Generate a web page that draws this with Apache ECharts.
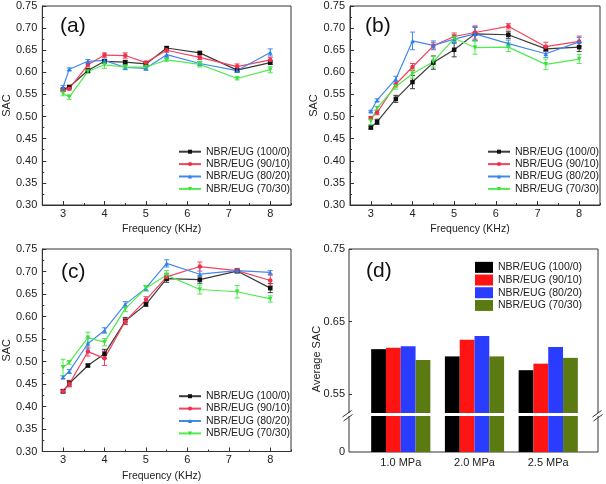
<!DOCTYPE html>
<html><head><meta charset="utf-8">
<script src="https://cdn.jsdelivr.net/npm/echarts@6/dist/echarts.min.js"></script>
<style>html,body{margin:0;padding:0;background:#fff}#c{width:606px;height:484px}</style>
</head><body><div id="c"></div>
<script>
// ---------- data ----------
const freq = [3, 3.15, 3.6, 4, 4.5, 5, 5.5, 6.3, 7.2, 8];
const seriesNames = ['NBR/EUG (100/0)', 'NBR/EUG (90/10)', 'NBR/EUG (80/20)', 'NBR/EUG (70/30)'];
const xTickVals = [3, 4, 5, 6, 7, 8];

// panel (a)
const a100 = [0.561, 0.567, 0.604, 0.625, 0.623, 0.619, 0.655, 0.644, 0.605, 0.622];
const a90  = [0.560, 0.563, 0.617, 0.639, 0.638, 0.622, 0.650, 0.634, 0.613, 0.628];
const a80  = [0.566, 0.607, 0.625, 0.627, 0.611, 0.609, 0.640, 0.620, 0.604, 0.645];
const a70  = [0.552, 0.544, 0.602, 0.617, 0.612, 0.612, 0.628, 0.618, 0.586, 0.606];
const aE100 = [0.003, 0.003, 0.004, 0.004, 0.004, 0.004, 0.003, 0.003, 0.004, 0.004];
const aE90  = [0.003, 0.003, 0.005, 0.005, 0.006, 0.003, 0.004, 0.005, 0.006, 0.006];
const aE80  = [0.004, 0.003, 0.004, 0.003, 0.005, 0.004, 0.006, 0.005, 0.004, 0.008];
const aE70  = [0.005, 0.005, 0.004, 0.008, 0.005, 0.004, 0.003, 0.006, 0.003, 0.007];

// panel (b)
const b100 = [0.475, 0.488, 0.540, 0.578, 0.622, 0.651, 0.687, 0.685, 0.653, 0.657];
const b90  = [0.497, 0.509, 0.573, 0.612, 0.660, 0.681, 0.690, 0.704, 0.658, 0.670];
const b80  = [0.512, 0.537, 0.585, 0.671, 0.661, 0.675, 0.687, 0.665, 0.642, 0.669];
const b70  = [0.490, 0.519, 0.568, 0.597, 0.624, 0.677, 0.656, 0.657, 0.618, 0.630];
const bE100 = [0.003, 0.006, 0.008, 0.015, 0.015, 0.016, 0.015, 0.008, 0.006, 0.010];
const bE90  = [0.003, 0.005, 0.006, 0.008, 0.007, 0.008, 0.015, 0.006, 0.010, 0.012];
const bE80  = [0.002, 0.003, 0.006, 0.020, 0.010, 0.010, 0.016, 0.008, 0.008, 0.010];
const bE70  = [0.008, 0.004, 0.006, 0.010, 0.012, 0.008, 0.015, 0.010, 0.012, 0.010];

// panel (c)
const c100 = [0.434, 0.451, 0.491, 0.517, 0.590, 0.627, 0.684, 0.682, 0.701, 0.663];
const c90  = [0.434, 0.450, 0.522, 0.507, 0.589, 0.637, 0.688, 0.711, 0.702, 0.680];
const c80  = [0.465, 0.478, 0.540, 0.569, 0.627, 0.663, 0.718, 0.694, 0.702, 0.698];
const c70  = [0.487, 0.498, 0.553, 0.543, 0.617, 0.663, 0.692, 0.660, 0.655, 0.639];
const cE100 = [0.004, 0.007, 0.003, 0.010, 0.008, 0.004, 0.008, 0.008, 0.004, 0.010];
const cE90  = [0.003, 0.006, 0.010, 0.016, 0.006, 0.007, 0.008, 0.010, 0.004, 0.012];
const cE80  = [0.003, 0.004, 0.012, 0.006, 0.006, 0.006, 0.008, 0.015, 0.005, 0.004];
const cE70  = [0.018, 0.004, 0.012, 0.008, 0.006, 0.006, 0.010, 0.010, 0.014, 0.007];

// panel (d)
const pressures = ['1.0 MPa', '2.0 MPa', '2.5 MPa'];
const d100 = [0.612, 0.602, 0.583];
const d90  = [0.614, 0.625, 0.592];
const d80  = [0.616, 0.630, 0.615];
const d70  = [0.597, 0.602, 0.600];
const dTicksUpper = [0.55, 0.65, 0.75];
const dTicksLower = [0];

// ---------- styles ----------
const FONT = '"Liberation Sans", Arial, Helvetica, sans-serif';
const AX = '#333';
const TXT = '#222';
const lineColors = ['#3a3a3a', '#f4435e', '#4289ee', '#4fec4f'];
const markerColors = ['#111111', '#ee2f4d', '#2f7fe8', '#3ce03c'];
const symbols = ['rect', 'circle', 'triangle', 'triangle'];
const symbolRot = [0, 0, 0, 180];
const barColors = ['#000000', '#ff1414', '#2a3cff', '#5b7b12'];

const linePanels = [
  {grid: {left: 41, top: 6, width: 250, height: 199}, vals: [a100, a90, a80, a70], errs: [aE100, aE90, aE80, aE70], legend: [178, 145.5], label: ['(a)', 60, 26]},
  {grid: {left: 350, top: 6, width: 250, height: 199}, vals: [b100, b90, b80, b70], errs: [bE100, bE90, bE80, bE70], legend: [487, 145.5], label: ['(b)', 365, 26]},
  {grid: {left: 41, top: 249, width: 250, height: 202.5}, vals: [c100, c90, c80, c70], errs: [cE100, cE90, cE80, cE70], legend: [178, 390], label: ['(c)', 61, 272]}
];

function errRender(params, api) {
  const x = api.value(0), lo = api.value(1), hi = api.value(2);
  const p1 = api.coord([x, hi]), p2 = api.coord([x, lo]);
  const hw = 2.5;
  const style = {stroke: api.visual('color'), lineWidth: 1};
  return {type: 'group', children: [
    {type: 'line', shape: {x1: p1[0], y1: p1[1], x2: p2[0], y2: p2[1]}, style: style},
    {type: 'line', shape: {x1: p1[0] - hw, y1: p1[1], x2: p1[0] + hw, y2: p1[1]}, style: style},
    {type: 'line', shape: {x1: p2[0] - hw, y1: p2[1], x2: p2[0] + hw, y2: p2[1]}, style: style}
  ]};
}

const grids = [], xAxes = [], yAxes = [], series = [], legends = [], graphics = [];

linePanels.forEach(function (p) {
  const gi = grids.length;
  grids.push(Object.assign({show: true, borderColor: AX, borderWidth: 1, backgroundColor: 'transparent'}, p.grid));
  const xi = xAxes.length;
  xAxes.push({gridIndex: gi, type: 'value', min: 2.5, max: 8.5, position: 'bottom',
    axisLine: {show: true, lineStyle: {color: AX, width: 1}},
    axisTick: {show: true, inside: true, length: 4, customValues: xTickVals, lineStyle: {color: AX}},
    axisLabel: {customValues: xTickVals, margin: 3, fontSize: 11, color: TXT},
    splitLine: {show: false},
    name: 'Frequency (KHz)', nameLocation: 'middle', nameGap: 19,
    nameTextStyle: {fontSize: 10.5, color: TXT, padding: [0, 10, 0, 0]}});
  xAxes.push({gridIndex: gi, type: 'value', min: 2.5, max: 8.5, interval: 0.5, position: 'bottom',
    axisLine: {show: false}, axisTick: {show: true, inside: true, length: 2, lineStyle: {color: AX}},
    axisLabel: {show: false}, splitLine: {show: false}});
  const yi = yAxes.length;
  yAxes.push({gridIndex: gi, type: 'value', min: 0.3, max: 0.75, interval: 0.05,
    axisLine: {show: true, lineStyle: {color: AX, width: 1}},
    axisTick: {show: true, inside: true, length: 4, lineStyle: {color: AX}},
    minorTick: {show: true, splitNumber: 2, length: 2, lineStyle: {color: AX}},
    axisLabel: {formatter: function (v) { return v.toFixed(2); }, margin: 5, fontSize: 11, color: TXT},
    splitLine: {show: false}, minorSplitLine: {show: false},
    name: 'SAC', nameLocation: 'middle', nameGap: 28, nameTextStyle: {fontSize: 11, color: TXT}});
  for (let k = 0; k < 4; k++) {
    const v = p.vals[k], e = p.errs[k];
    series.push({type: 'custom', xAxisIndex: xi, yAxisIndex: yi, renderItem: errRender,
      encode: {x: 0, y: [1, 2]}, itemStyle: {color: lineColors[k]}, silent: true, z: 2,
      data: freq.map(function (f, i) { return [f, v[i] - e[i], v[i] + e[i]]; })});
    series.push({type: 'line', name: seriesNames[k], xAxisIndex: xi, yAxisIndex: yi,
      data: freq.map(function (f, i) { return [f, v[i]]; }),
      symbol: symbols[k], symbolRotate: symbolRot[k], symbolSize: 4.5, showAllSymbol: true,
      lineStyle: {width: 1.2, color: lineColors[k]}, itemStyle: {color: markerColors[k]}, z: 3,
      emphasis: {disabled: true}});
  }
  legends.push({data: seriesNames.slice(), orient: 'vertical', left: p.legend[0], top: p.legend[1],
    itemWidth: 22, itemHeight: 5, itemGap: 0, padding: 0, selectedMode: false,
    textStyle: {fontSize: 10.5, color: TXT, lineHeight: 12.4}});
  graphics.push({type: 'text', x: p.label[1], y: p.label[2],
    style: {text: p.label[0], fontSize: 21, fontFamily: FONT, fill: '#111', verticalAlign: 'middle', textVerticalAlign: 'middle'}});
});

// ---- panel (d) ----
const gFrame = grids.length;
grids.push({show: true, borderColor: AX, borderWidth: 1, left: 349, top: 249, width: 249, height: 203});
xAxes.push({gridIndex: gFrame, type: 'value', min: 0, max: 1, show: false});
yAxes.push({gridIndex: gFrame, type: 'value', min: 0, max: 1,
  axisLine: {show: false}, axisTick: {show: false}, axisLabel: {show: false}, splitLine: {show: false},
  name: 'Average SAC', nameLocation: 'middle', nameGap: 27,
  nameTextStyle: {fontSize: 11, color: TXT, padding: [0, 17, 0, 0]}});

const gUp = grids.length;
grids.push({left: 363.9, top: 249, width: 221.2, height: 164});
const xUp = xAxes.length;
xAxes.push({gridIndex: gUp, type: 'category', data: pressures, show: false});
const yUp = yAxes.length;
yAxes.push({gridIndex: gUp, type: 'value', min: 0.524, max: 0.75, offset: 14.9,
  axisLine: {show: false},
  axisTick: {show: true, inside: true, length: 3, customValues: dTicksUpper, lineStyle: {color: AX}},
  axisLabel: {customValues: dTicksUpper, formatter: function (v) { return v.toFixed(2); }, margin: 4, fontSize: 11, color: TXT},
  splitLine: {show: false}});

const gLo = grids.length;
grids.push({left: 363.9, top: 416, width: 221.2, height: 36});
const xLo = xAxes.length;
xAxes.push({gridIndex: gLo, type: 'category', data: pressures,
  axisLine: {show: false}, axisTick: {show: false},
  axisLabel: {margin: 5, fontSize: 11, color: TXT}});
const yLo = yAxes.length;
yAxes.push({gridIndex: gLo, type: 'value', min: 0, max: 0.05, offset: 14.9,
  axisLine: {show: false}, axisTick: {show: false},
  axisLabel: {customValues: dTicksLower, formatter: function () { return '0'; }, margin: 4, fontSize: 11, color: TXT},
  splitLine: {show: false}});

const dVals = [d100, d90, d80, d70];
for (let k = 0; k < 4; k++) {
  [[xUp, yUp], [xLo, yLo]].forEach(function (ax) {
    series.push({type: 'bar', name: seriesNames[k], xAxisIndex: ax[0], yAxisIndex: ax[1],
      data: dVals[k], barWidth: 14.8, barGap: '0%', clip: true,
      itemStyle: {color: barColors[k]}, emphasis: {disabled: true}});
  });
}
legends.push({data: seriesNames.map(function (n, k) {
    return {name: n, icon: 'rect', itemStyle: {color: barColors[k], borderColor: barColors[k], borderWidth: 0}};
  }),
  orient: 'vertical', left: 475, top: 261, itemWidth: 18, itemHeight: 11, itemGap: 0, padding: 0,
  selectedMode: false, textStyle: {fontSize: 10.5, color: TXT, lineHeight: 12.7}});

graphics.push({type: 'text', x: 366, y: 271.5,
  style: {text: '(d)', fontSize: 21, fontFamily: FONT, fill: '#111', verticalAlign: 'middle', textVerticalAlign: 'middle'}});
graphics.push({type: 'rect', shape: {x: 344, y: 413, width: 262, height: 3}, style: {fill: '#fff'}, z: 100});
[[349], [599]].forEach(function (c) {
  const cx = c[0];
  graphics.push({type: 'line', shape: {x1: cx - 6.5, y1: 417, x2: cx + 2.5, y2: 410.5}, style: {stroke: AX, lineWidth: 1}, z: 101});
  graphics.push({type: 'line', shape: {x1: cx - 5.5, y1: 421, x2: cx + 3.5, y2: 414.5}, style: {stroke: AX, lineWidth: 1}, z: 101});
});

const option = {
  animation: false,
  backgroundColor: '#fff',
  textStyle: {fontFamily: FONT},
  grid: grids, xAxis: xAxes, yAxis: yAxes, series: series, legend: legends,
  graphic: {elements: graphics}
};
const chart = echarts.init(document.getElementById('c'), null, {renderer: 'canvas'});
chart.setOption(option);
</script></body></html>
